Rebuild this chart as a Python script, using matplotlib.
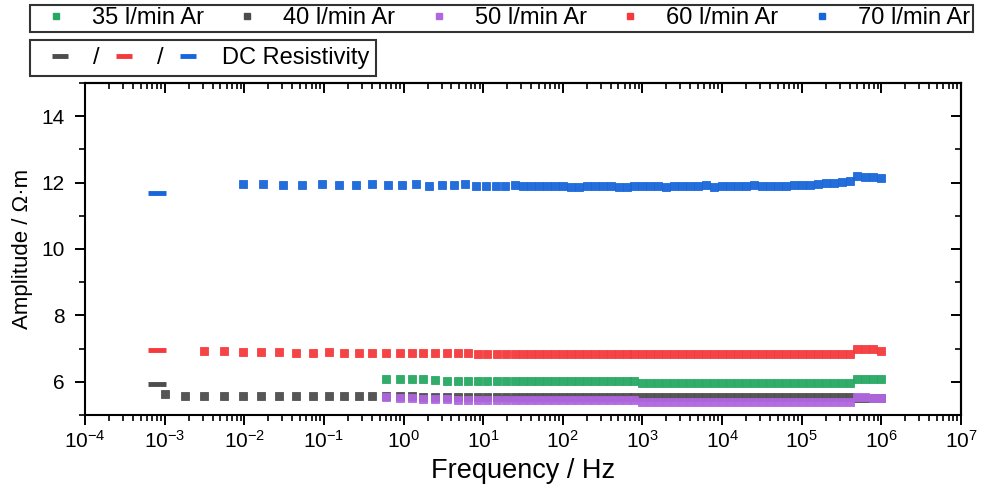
import numpy as np
import matplotlib
matplotlib.use("Agg")
import matplotlib.pyplot as plt
from matplotlib.lines import Line2D
from matplotlib.ticker import LogLocator, FixedLocator, NullFormatter

plt.rcParams['font.family'] = ['Liberation Sans', 'DejaVu Sans']
plt.rcParams['mathtext.default'] = 'regular'

# log10(frequency / Hz) grids
high_logf = [1.5, 1.6, 1.7, 1.8, 1.9, 2.0, 2.1, 2.2, 2.3, 2.4, 2.5, 2.6, 2.7, 2.8, 2.9,
             3.0, 3.1, 3.2, 3.3, 3.4, 3.5, 3.6, 3.7, 3.8, 3.9, 4.0, 4.1, 4.2, 4.3, 4.4,
             4.5, 4.6, 4.7, 4.8, 4.9, 5.0, 5.1, 5.2, 5.3, 5.4, 5.5, 5.6, 5.7, 5.8, 5.9, 6.0]
red_low_logf = [-2.51, -2.26, -2.02, -1.79, -1.56, -1.35, -1.14, -0.94, -0.75, -0.56,
                -0.39, -0.22, -0.05, 0.10, 0.25, 0.40, 0.54, 0.68, 0.81, 0.93, 1.05,
                1.17, 1.29, 1.40]
blue_low_logf = [-2.01, -1.76, -1.51, -1.27, -1.03, -0.81, -0.60, -0.39, -0.20, -0.02,
                 0.16, 0.32, 0.48, 0.63, 0.77, 0.91, 1.04, 1.16, 1.28, 1.40]
gray_extra_logf = [-3.00, -2.75]

logf_70 = blue_low_logf + high_logf
logf_60 = red_low_logf + high_logf
logf_40 = gray_extra_logf + red_low_logf + high_logf
logf_35 = red_low_logf[11:] + high_logf
logf_50 = red_low_logf[11:] + high_logf

amp_70 = [11.97, 11.97, 11.93, 11.94, 11.97, 11.92, 11.94, 11.97, 11.92, 11.93,
          11.96, 11.90, 11.92, 11.93, 11.95, 11.89, 11.90, 11.90,
          11.90, 11.93, 11.89, 11.90, 11.90, 11.89, 11.91, 11.91, 11.88, 11.88,
          11.90, 11.90, 11.90, 11.91, 11.88, 11.88, 11.90, 11.90, 11.90, 11.91,
          11.88, 11.89, 11.89, 11.89, 11.90, 11.93, 11.88, 11.89, 11.89, 11.89,
          11.90, 11.93, 11.89, 11.90, 11.90, 11.90, 11.93, 11.94, 11.94, 11.96,
          11.98, 11.99, 12.02, 12.04, 12.20, 12.18, 12.17, 12.14]
amp_60 = [6.94, 6.94, 6.91, 6.90, 6.90, 6.88, 6.88, 6.90, 6.87, 6.87, 6.88, 6.86,
          6.86, 6.87, 6.87, 6.86, 6.86, 6.86, 6.87, 6.85, 6.85, 6.85, 6.85, 6.84,
          6.84, 6.85, 6.84, 6.84, 6.85, 6.84, 6.84, 6.85, 6.84, 6.84, 6.85, 6.84,
          6.84, 6.84, 6.85, 6.84, 6.84, 6.84, 6.85, 6.84, 6.84, 6.84, 6.85, 6.84,
          6.84, 6.84, 6.85, 6.84, 6.84, 6.84, 6.85, 6.84, 6.84, 6.84, 6.84, 6.85,
          6.84, 6.84, 6.84, 6.85, 6.84, 6.85, 6.98, 6.98, 6.98, 6.94]
amp_40 = [5.62, 5.58,
          5.58, 5.57, 5.57, 5.56, 5.56, 5.56, 5.56, 5.56, 5.56, 5.56, 5.56, 5.56,
          5.56, 5.56, 5.55, 5.55, 5.55, 5.55, 5.55, 5.55, 5.55, 5.55, 5.55, 5.55,
          5.55, 5.55, 5.55, 5.55, 5.55, 5.55, 5.55, 5.55, 5.55, 5.55, 5.55, 5.55,
          5.55, 5.55, 5.55, 5.55, 5.55, 5.55, 5.55, 5.55, 5.55, 5.55, 5.55, 5.55,
          5.55, 5.55, 5.55, 5.55, 5.55, 5.55, 5.55, 5.55, 5.55, 5.55, 5.55, 5.55,
          5.55, 5.55, 5.55, 5.55, 5.55, 5.55, 5.52, 5.52, 5.51, 5.51]
amp_35 = [6.07, 6.07, 6.07, 6.07, 6.04, 6.03, 6.03, 6.03, 6.03, 6.02, 6.02, 6.02, 6.02,
          6.02, 6.02, 6.02, 6.02, 6.02, 6.02, 6.02, 6.02, 6.02, 6.02, 6.02, 6.02,
          6.02, 6.02, 6.02,
          5.97, 5.97, 5.96, 5.97, 5.97, 5.97, 5.97, 5.96, 5.97, 5.97, 5.97, 5.97,
          5.97, 5.97, 5.97, 5.96, 5.97, 5.97, 5.97, 5.97, 5.97, 5.97, 5.97, 5.97,
          5.97, 5.97, 5.97,
          6.08, 6.08, 6.07, 6.07]
amp_50 = [5.53, 5.51, 5.51, 5.48, 5.47, 5.47, 5.46, 5.46, 5.45, 5.45, 5.45, 5.45, 5.45,
          5.45, 5.45, 5.45, 5.45, 5.45, 5.45, 5.45, 5.45, 5.45, 5.45, 5.45, 5.45,
          5.45, 5.45, 5.45,
          5.38, 5.38, 5.38, 5.38, 5.38, 5.38, 5.38, 5.38, 5.39, 5.39, 5.39, 5.39,
          5.39, 5.39, 5.39, 5.39, 5.39, 5.39, 5.39, 5.39, 5.39, 5.39, 5.39, 5.39,
          5.39, 5.39, 5.39,
          5.53, 5.53, 5.52, 5.52]

# DC resistivity values
dc_logf = -3.09
dc_40 = 5.93
dc_60 = 6.96
dc_70 = 11.70

labels = ['35 l/min Ar', '40 l/min Ar', '50 l/min Ar', '60 l/min Ar', '70 l/min Ar']
colors = ['#27A862', '#4D4D4D', '#B066E0', '#F43A3C', '#1866DA']

fig = plt.figure(figsize=(9.89, 4.88), dpi=100)
ax = fig.add_axes([85 / 989, 1 - 415 / 488, (961 - 85) / 989, (415 - 83) / 488])

series = [(logf_35, amp_35), (logf_40, amp_40), (logf_50, amp_50),
          (logf_60, amp_60), (logf_70, amp_70)]
handles = []
for (lf, amp), lab, col in zip(series, labels, colors):
    ax.plot(10 ** np.array(lf), amp, 's', ms=5.8, color=col, mec=col, mew=0.6,
            alpha=0.95, label=lab)
    handles.append(Line2D([], [], marker='s', ls='none', ms=4.5, color=col))

dc_handles = []
for val, col in zip([dc_40, dc_60, dc_70], [colors[1], colors[3], colors[4]]):
    ax.plot([10 ** dc_logf], [val], marker='_', ms=13, mew=3.5, color=col)
    dc_handles.append(Line2D([], [], marker='_', ls='none', ms=11, mew=3.5, color=col))

ax.set_xscale('log')
ax.set_xlim(1e-4, 1e7)
ax.set_ylim(5, 15)
ax.xaxis.set_major_locator(LogLocator(base=10, numticks=20))
ax.xaxis.set_minor_locator(LogLocator(base=10, subs=np.arange(2, 10), numticks=20))
ax.xaxis.set_minor_formatter(NullFormatter())
ax.set_yticks([6, 8, 10, 12, 14])
ax.yaxis.set_minor_locator(FixedLocator([5, 7, 9, 11, 13, 15]))

for s in ax.spines.values():
    s.set_linewidth(1.5)
ax.tick_params(which='major', direction='out', length=7.5, width=1.4, labelsize=15)
ax.tick_params(axis='y', which='major', pad=7)
ax.tick_params(which='minor', direction='out', length=4, width=1.2)

top = ax.secondary_xaxis('top')
top.xaxis.set_major_locator(LogLocator(base=10, numticks=20))
top.xaxis.set_minor_locator(LogLocator(base=10, subs=np.arange(2, 10), numticks=20))
top.xaxis.set_major_formatter(NullFormatter())
top.xaxis.set_minor_formatter(NullFormatter())
top.tick_params(which='major', direction='in', length=7.5, width=1.4)
top.tick_params(which='minor', direction='in', length=4, width=1.2)
top.spines['top'].set_linewidth(1.5)

right = ax.secondary_yaxis('right')
right.set_yticks([6, 8, 10, 12, 14])
right.yaxis.set_major_formatter(NullFormatter())
right.yaxis.set_minor_locator(FixedLocator([5, 7, 9, 11, 13, 15]))
right.tick_params(which='major', direction='in', length=7.5, width=1.4)
right.tick_params(which='minor', direction='in', length=4, width=1.2)
right.spines['right'].set_linewidth(1.5)

ax.set_xlabel('Frequency / Hz', fontsize=19.5, labelpad=4)
ax.set_ylabel('Amplitude / Ω·m', fontsize=16, labelpad=6)

leg1 = fig.legend(handles, labels, loc='upper left', ncol=5, mode='expand',
                  bbox_to_anchor=(30 / 989, 1 - 5 / 488, (973 - 30) / 989, 0.001),
                  fontsize=17, frameon=True, fancybox=False, edgecolor='black',
                  handlelength=1.95, handletextpad=0.55, borderpad=0.12,
                  borderaxespad=0)
leg1.get_frame().set_linewidth(1.5)

leg2 = fig.legend(dc_handles, ['/', '/', 'DC Resistivity'], loc='upper left', ncol=3,
                  bbox_to_anchor=(30 / 989, 1 - 40 / 488),
                  fontsize=17, frameon=True, fancybox=False, edgecolor='black',
                  handlelength=1.9, handletextpad=0.45, columnspacing=0.1,
                  borderpad=0.3, borderaxespad=0)
leg2.get_frame().set_linewidth(1.5)

fig.savefig('out.png', dpi=100)
